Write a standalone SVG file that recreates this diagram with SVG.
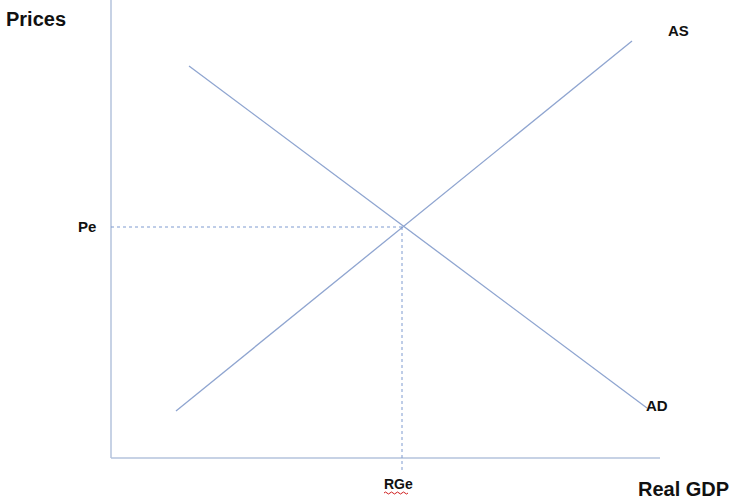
<svg xmlns="http://www.w3.org/2000/svg" width="738" height="501" viewBox="0 0 738 501">
<style>
.ax{stroke:#b4c3dc;stroke-width:1.5;fill:none}
.ln{stroke:#8fa5d0;stroke-width:1.3;fill:none}
.dash{stroke:#7f9bd0;stroke-width:1;stroke-dasharray:3,3;fill:none}
.t{font-family:"Liberation Sans",Arial,sans-serif;font-weight:bold;fill:#111}
</style>
<rect width="738" height="501" fill="#fff"/>
<g id="connectors">
<line class="ax" x1="111" y1="0" x2="111" y2="458"/>
<line class="ax" x1="111" y1="458" x2="660" y2="458"/>
<line id="AS-line" class="ln" x1="176" y1="411" x2="632" y2="41"/>
<line id="AD-line" class="ln" x1="189" y1="66" x2="647" y2="408"/>
<line class="dash" x1="111" y1="227" x2="402" y2="227"/>
<line class="dash" x1="402" y1="227" x2="402" y2="472"/>
</g>
<g id="prices"><text class="t" x="6" y="26" font-size="20">Prices</text></g>
<g id="realgdp"><text class="t" x="638" y="496" font-size="20">Real GDP</text></g>
<g id="as"><text class="t" x="668" y="36" font-size="15">AS</text></g>
<g id="ad"><text class="t" x="646" y="411" font-size="15">AD</text></g>
<g id="pe"><text class="t" x="78" y="232" font-size="15">Pe</text></g>
<g id="rge"><text class="t" x="384" y="489" font-size="14">RGe</text>
<path d="M384,493 q1.5,-2 3,0 t3,0 t3,0 t3,0 t3,0 t3,0 t3,0 t3,0" stroke="#d02020" stroke-width="1" fill="none"/></g>
</svg>
